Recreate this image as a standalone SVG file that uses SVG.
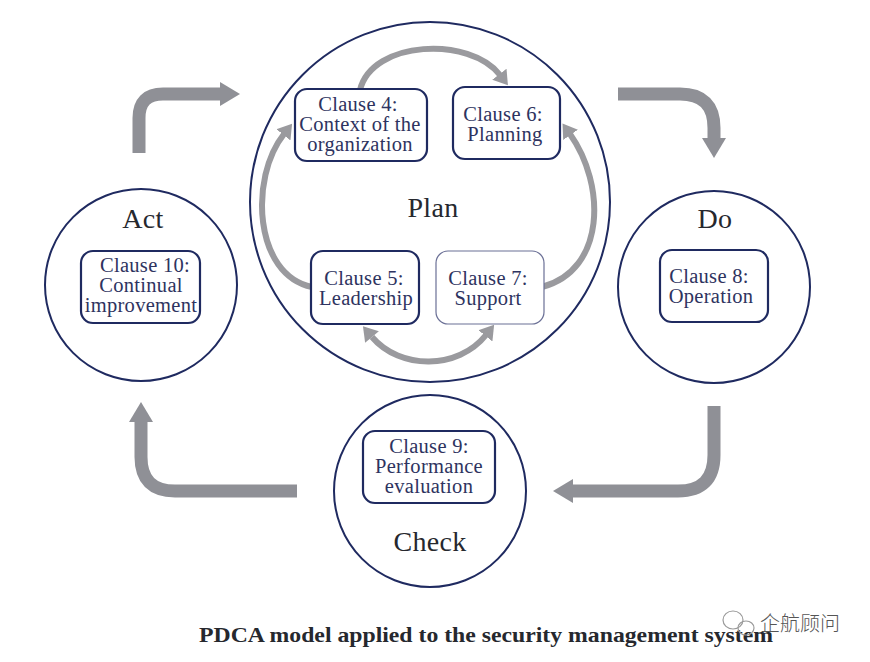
<svg xmlns="http://www.w3.org/2000/svg" width="870" height="662" viewBox="0 0 870 662">
<defs>
<marker id="h" markerUnits="userSpaceOnUse" markerWidth="22" markerHeight="28" refX="1" refY="14" orient="auto"><path d="M0 2L20 14L0 26Z" fill="#8f9096"/></marker>
<marker id="s" markerUnits="userSpaceOnUse" markerWidth="16" markerHeight="20" refX="1" refY="10" orient="auto"><path d="M0 1L14 10L0 19Z" fill="#9a9a9e"/></marker>
<marker id="t" markerUnits="userSpaceOnUse" markerWidth="16" markerHeight="20" refX="14" refY="10" orient="auto"><path d="M14 1L0 10L14 19Z" fill="#9a9a9e"/></marker>
</defs>
<style>
text{font-family:"Liberation Serif",serif;fill:#2e3360;text-anchor:middle;font-size:20.5px;letter-spacing:.3px}
.big{font-size:28px;fill:#26282e}
.c{fill:#fff;stroke:#1f2a60;stroke-width:2}
.b{fill:#fff;stroke:#1f2a60;stroke-width:2.2}
.a{fill:none;stroke:#8f9096;stroke-width:13}
.i{fill:none;stroke:#9a9a9e;stroke-width:6}
</style>
<rect width="870" height="662" fill="#fff"/>
<g id="plan"><circle class="c" cx="430" cy="202" r="180"/><text class="big" x="433" y="217">Plan</text></g>
<g id="act"><circle class="c" cx="141" cy="285" r="96"/><text class="big" x="143" y="228">Act</text></g>
<g id="do"><circle class="c" cx="714" cy="287" r="96"/><text class="big" x="715" y="228">Do</text></g>
<g id="check"><circle class="c" cx="430" cy="491" r="96"/><text class="big" x="430" y="551">Check</text></g>
<g id="connectors">
<path class="a" d="M139 153V118Q139 94 163 94H221" marker-end="url(#h)"/>
<path class="a" d="M618 94H680Q714 94 714 128V139" marker-end="url(#h)"/>
<path class="a" d="M714 406V455Q714 491 678 491H572" marker-end="url(#h)"/>
<path class="a" d="M297 491H175Q141 491 141 457V421" marker-end="url(#h)"/>
<path class="i" d="M360 90C372 40 470 36 500 75" marker-end="url(#s)"/>
<path class="i" d="M312 287C254 275 249 178 284 134" marker-end="url(#s)"/>
<path class="i" d="M542 287C606 270 606 185 570 134" marker-end="url(#s)"/>
<path class="i" d="M372 337C400 370 458 370 486 335" marker-start="url(#t)" marker-end="url(#s)"/>
</g>
<g id="clause4"><rect class="b" x="295" y="89" width="132" height="72" rx="12"/><text x="358" y="111">Clause 4:</text><text x="360" y="131">Context of the</text><text x="360" y="151">organization</text></g>
<g id="clause6"><rect class="b" x="453" y="87" width="107" height="72" rx="12"/><text x="503" y="121">Clause 6:</text><text x="505" y="141">Planning</text></g>
<g id="clause5"><rect class="b" x="311" y="251" width="108" height="73" rx="12"/><text x="364" y="285">Clause 5:</text><text x="366" y="305">Leadership</text></g>
<g id="clause7"><rect x="436" y="251" width="108" height="73" rx="12" fill="#fff" stroke="#6b7096" stroke-width="1.2"/><text x="488" y="285">Clause 7:</text><text x="488" y="305">Support</text></g>
<g id="clause8"><rect class="b" x="660" y="250" width="108" height="72" rx="12"/><text x="709" y="283">Clause 8:</text><text x="711" y="303">Operation</text></g>
<g id="clause9"><rect class="b" x="363" y="431" width="132" height="72" rx="12"/><text x="429" y="453">Clause 9:</text><text x="429" y="473">Performance</text><text x="429" y="493">evaluation</text></g>
<g id="clause10"><rect class="b" x="81" y="251" width="119" height="72" rx="12"/><text x="145" y="272">Clause 10:</text><text x="141" y="292">Continual</text><text x="141" y="312">improvement</text></g>
<text x="486" y="642" textLength="574" lengthAdjust="spacingAndGlyphs" style="font-weight:700;font-size:21px;fill:#26282e;letter-spacing:0">PDCA model applied to the security management system</text>
<g id="watermark" fill="none" stroke="#9a9a9a" stroke-width="1.2"><ellipse cx="733" cy="620" rx="10" ry="9"/><ellipse cx="746" cy="628" rx="8" ry="7"/></g>
<text x="800" y="631" style="font-family:'Noto Sans CJK SC',sans-serif;font-size:20px;font-weight:300;fill:#555;letter-spacing:0">企航顾问</text>
</svg>
